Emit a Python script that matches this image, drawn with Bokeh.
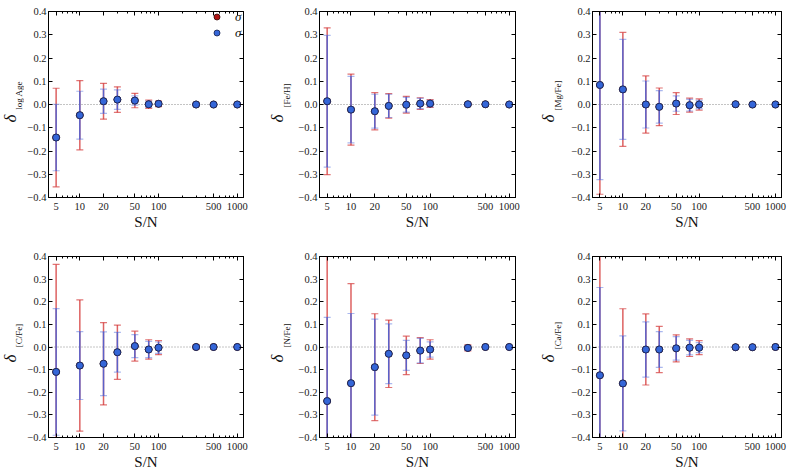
import numpy as np
from bokeh.plotting import figure
from bokeh.models import (Range1d, FixedTicker, CustomJSTickFormatter, LogAxis,
                          LinearAxis, Span, Label, Legend, LegendItem, ColumnDataSource,
                          CustomLabelingPolicy)
from bokeh.layouts import gridplot
from bokeh.embed import file_html
from bokeh.resources import INLINE

# ---------------- data ----------------
SN = [5, 10, 20, 30, 50, 75, 100, 300, 500, 1000]
XTICKS = [5, 10, 20, 50, 100, 500, 1000]
XMINOR = [6, 7, 8, 9, 30, 40, 60, 70, 80, 90, 200, 300, 400, 600, 700, 800, 900]
YTICKS = [-0.4, -0.3, -0.2, -0.1, 0.0, 0.1, 0.2, 0.3, 0.4]

age_delta = [-0.142, -0.046, 0.014, 0.021, 0.017, 0.001, 0.003, 0.000, 0.000, 0.000]
age_sig_i = [0.212, 0.149, 0.077, 0.055, 0.031, 0.018, 0.012, 0.004, 0.003, 0.002]
age_sig_mu = [0.143, 0.103, 0.052, 0.042, 0.020, 0.014, 0.008, 0.003, 0.002, 0.001]

feh_delta = [0.014, -0.022, -0.029, -0.006, -0.001, 0.004, 0.004, 0.001, 0.001, 0.000]
feh_sig_i = [0.316, 0.153, 0.080, 0.053, 0.036, 0.025, 0.017, 0.004, 0.003, 0.002]
feh_sig_mu = [0.283, 0.143, 0.073, 0.050, 0.032, 0.022, 0.014, 0.003, 0.002, 0.001]

mgfe_delta = [0.084, 0.065, 0.000, -0.010, 0.004, -0.003, 0.000, 0.001, 0.000, 0.000]
mgfe_sig_i = [0.470, 0.245, 0.123, 0.081, 0.047, 0.030, 0.024, 0.005, 0.003, 0.002]
mgfe_sig_mu = [0.407, 0.215, 0.101, 0.070, 0.033, 0.025, 0.018, 0.004, 0.002, 0.001]

cfe_delta = [-0.110, -0.082, -0.074, -0.023, 0.004, -0.011, -0.003, 0.000, 0.000, 0.000]
cfe_sig_i = [0.475, 0.290, 0.182, 0.120, 0.066, 0.043, 0.031, 0.009, 0.004, 0.002]
cfe_sig_mu = [0.280, 0.150, 0.141, 0.088, 0.051, 0.036, 0.025, 0.005, 0.003, 0.001]

nfe_delta = [-0.239, -0.160, -0.089, -0.030, -0.037, -0.016, -0.011, -0.004, 0.000, 0.000]
nfe_sig_i = [0.700, 0.440, 0.236, 0.149, 0.085, 0.057, 0.043, 0.013, 0.005, 0.003]
nfe_sig_mu = [0.370, 0.308, 0.212, 0.132, 0.066, 0.054, 0.034, 0.010, 0.004, 0.002]

cafe_delta = [-0.125, -0.161, -0.011, -0.011, -0.006, -0.003, -0.003, -0.001, -0.001, 0.000]
cafe_sig_i = [0.600, 0.330, 0.157, 0.102, 0.060, 0.039, 0.031, 0.005, 0.004, 0.002]
cafe_sig_mu = [0.388, 0.210, 0.122, 0.079, 0.052, 0.032, 0.022, 0.004, 0.003, 0.001]

SUBSCRIPTS = ["log Age", "[Fe/H]", "[Mg/Fe]", "[C/Fe]", "[N/Fe]", "[Ca/Fe]"]
XLABEL = "S/N"
LEGEND_SUBS = ["i", "\u03bc"]

# ---------------- style ----------------
FONT = "Liberation Serif"
RED = "#d43a3a"
BLUE = "#4362dc"
MFILL = "#3566d8"
MLINE = "#15204a"
RFILL = "#b01515"
TICKCOL = "#222222"
TXT = "#111111"

NO_LABELS = "for (const i of indices) { indices.unset(i) }\nreturn indices"


def make_panel(delta, sig_i, sig_mu, fw, fh, bl, br, bt, bb, legend=False):
    d = np.array(delta)
    si = np.array(sig_i)
    sm = np.array(sig_mu)
    src = ColumnDataSource(dict(x=SN, y=d, lo_i=d - si, hi_i=d + si,
                                lo_m=d - sm, hi_m=d + sm))
    p = figure(width=bl + fw + br, height=bt + fh + bb, x_axis_type="log",
               x_range=Range1d(4, 1200), y_range=Range1d(-0.4, 0.4),
               output_backend="svg", toolbar_location=None,
               min_border_left=bl, min_border_right=br,
               min_border_top=bt, min_border_bottom=bb)
    p.grid.visible = False
    p.outline_line_color = "black"
    p.outline_line_width = 1
    p.background_fill_color = "white"
    p.border_fill_color = "white"

    zero = Span(location=0, dimension="width", line_color="#888888",
                line_dash="1 2", line_width=1, level="underlay")
    p.add_layout(zero)

    # sigma_i (red)
    p.segment(x0="x", y0="lo_i", x1="x", y1="hi_i", source=src,
              line_color=RED, line_alpha=0.8, line_width=1.5)
    p.scatter(x="x", y="lo_i", source=src, marker="dash", size=7,
              line_color=RED, line_alpha=0.7, line_width=1.2)
    p.scatter(x="x", y="hi_i", source=src, marker="dash", size=7,
              line_color=RED, line_alpha=0.7, line_width=1.2)
    red_sc = p.scatter(x="x", y="y", source=src, marker="circle", size=7,
                       fill_color=RFILL, line_color="#300808", line_width=0.8)
    # sigma_mu (blue)
    p.segment(x0="x", y0="lo_m", x1="x", y1="hi_m", source=src,
              line_color=BLUE, line_alpha=0.85, line_width=1.5)
    p.scatter(x="x", y="lo_m", source=src, marker="dash", size=7,
              line_color=BLUE, line_alpha=0.45, line_width=1.2)
    p.scatter(x="x", y="hi_m", source=src, marker="dash", size=7,
              line_color=BLUE, line_alpha=0.45, line_width=1.2)
    blue_sc = p.scatter(x="x", y="y", source=src, marker="circle", size=7,
                        fill_color=MFILL, line_color=MLINE, line_width=0.8)

    # axes
    xa = p.below[0]
    xa.ticker = FixedTicker(ticks=XTICKS, minor_ticks=XMINOR)
    xa.formatter = CustomJSTickFormatter(code="return String(tick)")
    ya = p.left[0]
    ya.ticker = FixedTicker(ticks=YTICKS, minor_ticks=[])
    ya.formatter = CustomJSTickFormatter(
        code="return tick.toFixed(1).replace('-', '\u2212')")
    for ax in (xa, ya):
        ax.major_tick_in = 4
        ax.major_tick_out = 0
        ax.minor_tick_in = 2
        ax.minor_tick_out = 0
        ax.major_tick_line_color = "black"
        ax.minor_tick_line_color = "black"
        ax.axis_line_color = "black"
        ax.major_label_text_font = FONT
        ax.major_label_text_font_size = "10.5px"
        ax.major_label_text_color = TICKCOL
    xa.major_label_standoff = 5
    ya.major_label_standoff = 2
    xa.axis_label = XLABEL
    xa.axis_label_text_font = FONT
    xa.axis_label_text_font_size = "15px"
    xa.axis_label_text_font_style = "normal"
    xa.axis_label_text_color = TXT
    xa.axis_label_standoff = 1

    top = LogAxis(ticker=FixedTicker(ticks=XTICKS, minor_ticks=XMINOR),
                  major_label_policy=CustomLabelingPolicy(code=NO_LABELS),
                  major_label_standoff=0,
                  major_tick_in=4, major_tick_out=0, minor_tick_in=2,
                  minor_tick_out=0, axis_line_color="black")
    right = LinearAxis(ticker=FixedTicker(ticks=YTICKS, minor_ticks=[]),
                       major_label_policy=CustomLabelingPolicy(code=NO_LABELS),
                       major_label_standoff=0,
                       major_tick_in=4, major_tick_out=0, minor_tick_in=2,
                       minor_tick_out=0, axis_line_color="black")
    p.add_layout(top, "above")
    p.add_layout(right, "right")

    if legend:
        vx, H = 160, 30
        vy = fh - 5.8 - H
        leg = Legend(items=[LegendItem(label="\u03c3", renderers=[red_sc]),
                            LegendItem(label="\u03c3", renderers=[blue_sc])],
                     location=(vx, vy), glyph_width=17, glyph_height=15,
                     label_height=15, spacing=0, padding=0, margin=0,
                     label_standoff=10, background_fill_alpha=0,
                     border_line_alpha=0, label_text_font=FONT,
                     label_text_font_style="italic", label_text_font_size="13px",
                     label_text_color=TXT)
        p.add_layout(leg)
        for j, s in enumerate(LEGEND_SUBS):
            rc = vy + H - 7.5 - 15 * j
            p.add_layout(Label(x=vx + 17 + 10 + 10, y=rc - 4, x_units="screen",
                               y_units="screen", text=s, text_font=FONT,
                               text_font_style="italic", text_font_size="10px",
                               text_color=TXT, text_baseline="middle",
                               text_align="left"))
    return p


def make_ylabel(sub, lw, fh, bt, bb, dx, sx):
    """narrow strip (frame aligned with the panel frame) holding the
    rotated y-axis label  delta_{sub}"""
    q = figure(width=lw, height=bt + fh + bb, x_range=Range1d(0, 1),
               y_range=Range1d(0, 1), min_border_left=0, min_border_right=0,
               min_border_top=bt, min_border_bottom=bb,
               x_axis_location=None, y_axis_location=None,
               output_backend="svg", toolbar_location=None)
    q.grid.visible = False
    q.outline_line_color = None
    q.background_fill_color = "white"
    q.border_fill_color = "white"
    q.add_layout(Label(x=dx, y=fh / 2 - 17, x_units="screen", y_units="screen",
                       text="\u03b4", angle=np.pi / 2, text_font=FONT,
                       text_font_style="italic", text_font_size="17px",
                       text_color=TXT, text_baseline="middle",
                       text_align="center"))
    q.add_layout(Label(x=sx, y=fh / 2 + 6, x_units="screen", y_units="screen",
                       text=sub, angle=np.pi / 2, text_font=FONT,
                       text_font_size="9px", text_color=TXT,
                       text_baseline="middle", text_align="center"))
    return q


panels_data = [
    (age_delta, age_sig_i, age_sig_mu),
    (feh_delta, feh_sig_i, feh_sig_mu),
    (mgfe_delta, mgfe_sig_i, mgfe_sig_mu),
    (cfe_delta, cfe_sig_i, cfe_sig_mu),
    (nfe_delta, nfe_sig_i, nfe_sig_mu),
    (cafe_delta, cafe_sig_i, cafe_sig_mu),
]

# column geometry: label strip width, panel left border, frame width, right border
LW = [24, 26, 26]
BL = [21, 25, 26]
FW = [210, 209, 210]
BR = [13, 12, 4]
DX = [10, 9, 8]        # centre of delta inside the strip
SX = [18.5, 18, 17]    # centre of subscript inside the strip
FH = 192
ROW_BT = [5, 2]
ROW_BB = [48, 33]

rows = []
for r in range(2):
    row = []
    for c in range(3):
        k = r * 3 + c
        d, si, sm = panels_data[k]
        row.append(make_ylabel(SUBSCRIPTS[k], LW[c], FH, ROW_BT[r], ROW_BB[r],
                               DX[c], SX[c]))
        row.append(make_panel(d, si, sm, FW[c], FH, BL[c], BR[c],
                              ROW_BT[r], ROW_BB[r], legend=(k == 0)))
    rows.append(row)

grid = gridplot(rows, toolbar_location=None)

with open("out.html", "w") as f:
    f.write(file_html(grid, INLINE))
